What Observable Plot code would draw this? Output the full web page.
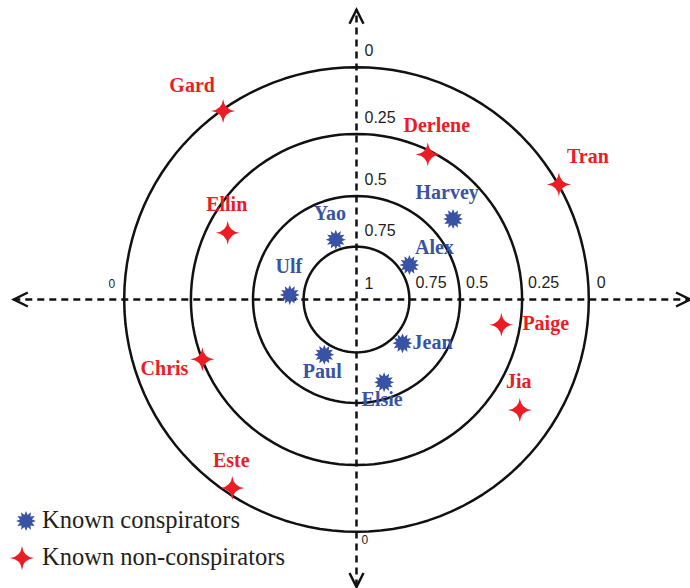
<!DOCTYPE html>
<html><head><meta charset="utf-8">
<script src="https://cdn.jsdelivr.net/npm/d3@7"></script>
<script src="https://cdn.jsdelivr.net/npm/@observablehq/plot@0.6"></script>
<style>
body{margin:0;background:#fff;}
#wrap{position:relative;width:690px;height:588px;overflow:hidden;}
.legtxt{position:absolute;font-family:"Liberation Serif","Times New Roman",serif;font-size:24.5px;line-height:28px;color:#231f20;white-space:nowrap;}
.legsym{position:absolute;}
</style></head><body><div id="wrap"></div>
<script>
// ---- data ----
const conspirators = ["Yao","Ulf","Alex","Harvey","Jean","Paul","Elsie"];
const conspX = [-0.09,-0.29,0.23,0.42,0.20,-0.14,0.12];
const conspY = [0.26,0.02,0.15,0.35,-0.19,-0.24,-0.36];
const conspLabelSide = ["NNW","N","ENE","NNW","E","S","S"];

const nonConspirators = ["Gard","Derlene","Tran","Ellin","Paige","Chris","Jia","Este"];
const nonX = [-0.58,0.31,0.88,-0.56,0.63,-0.67,0.71,-0.54];
const nonY = [0.82,0.63,0.50,0.29,-0.11,-0.26,-0.48,-0.82];
const nonLabelSide = ["NW","NNE","NE","N","E","W","N","N"];

const ringRadius = [0.23,0.45,0.72,1.01];
const ringLabels = ["0.75","0.5","0.25","0"];
const centerLabel = "1";
const axisX = [-1.49, 1.45];
const axisY = [-1.25, 1.26];

const groups = ["Known conspirators","Known non-conspirators"];
const groupColors = ["#3953a4","#ed1c24"];

// ---- symbols ----
const burst = {draw(ctx, size){
  const R = Math.sqrt(size/Math.PI), n = 12;
  for (let i = 0; i < 2*n; i++){
    const a = i*Math.PI/n - Math.PI/2, r = i%2 ? R*0.62 : R;
    const x = r*Math.cos(a), y = r*Math.sin(a);
    i ? ctx.lineTo(x,y) : ctx.moveTo(x,y);
  }
  ctx.closePath();
}};
const star4 = {draw(ctx, size){
  const R = Math.sqrt(size/Math.PI), c = R*0.1;
  ctx.moveTo(0,-R);
  ctx.quadraticCurveTo(c,-c,R,0);
  ctx.quadraticCurveTo(c,c,0,R);
  ctx.quadraticCurveTo(-c,c,-R,0);
  ctx.quadraticCurveTo(-c,-c,0,-R);
  ctx.closePath();
}};
const chevron = {draw(ctx){ ctx.moveTo(-7,14); ctx.lineTo(0,0); ctx.lineTo(7,14); }};

// ---- tables ----
const people = [
  ...conspirators.map((name,i)=>({name, x:conspX[i], y:conspY[i], side:conspLabelSide[i], g:0})),
  ...nonConspirators.map((name,i)=>({name, x:nonX[i], y:nonY[i], side:nonLabelSide[i], g:1}))
];
const rings = ringRadius.flatMap((r,k)=>d3.range(0,121).map(j=>({ring:k, x:r*Math.cos(j*Math.PI/60), y:r*Math.sin(j*Math.PI/60)})));
const vLabels = [{t:centerLabel, r:0}, ...ringLabels.map((t,i)=>({t, r:ringRadius[i]}))];
const hLabels = ringLabels.slice(0,3).map((t,i)=>({t, r:ringRadius[i]}));
const outerIdx = ringLabels.length-1;
const tips = [
  {x:0, y:axisY[1], rot:0},{x:axisX[1], y:0, rot:90},
  {x:0, y:axisY[0], rot:180},{x:axisX[0], y:0, rot:270}
];

const sideStyle = {
  N:   {dx:-1, dy:-28, textAnchor:"middle"},
  NNW: {dx:-6, dy:-26, textAnchor:"middle"},
  NNE: {dx:9,  dy:-29, textAnchor:"middle"},
  NE:  {dx:29, dy:-28, textAnchor:"middle"},
  ENE: {dx:25, dy:-17, textAnchor:"middle"},
  NW:  {dx:-31,dy:-25, textAnchor:"middle"},
  S:   {dx:-2, dy:17,  textAnchor:"middle"},
  W:   {dx:-14,dy:9,   textAnchor:"end"}
};
const nameFont = {fontFamily:"Liberation Serif", fontWeight:"bold", fontSize:20};
const nameMarks = Object.entries(sideStyle).map(([k,s]) =>
  Plot.text(people.filter(d=>d.side===k), {x:"x", y:"y", text:"name", fill:d=>groupColors[d.g], ...s, ...nameFont}));
// east-side labels: offset depends on marker size
[0,1].forEach(g => nameMarks.push(
  Plot.text(people.filter(d=>d.side==="E" && d.g===g), {x:"x", y:"y", text:"name", fill:groupColors[g], dx: g ? 21 : 10, dy:-1, textAnchor:"start", ...nameFont})));

const tickFont = {fontFamily:"Liberation Sans", fontSize:16, fill:"#231f20"};
const chart = Plot.plot({
  width:690, height:588, margin:0,
  x:{domain:[-356/230, 334/230], axis:null},
  y:{domain:[-289/230, 299/230], axis:null},
  style:{background:"white", overflow:"visible"},
  marks:[
    Plot.ruleY([0], {x1:axisX[0], x2:axisX[1], stroke:"#111", strokeWidth:2.5, strokeDasharray:"7,5"}),
    Plot.ruleX([0], {y1:axisY[0], y2:axisY[1], stroke:"#111", strokeWidth:2.5, strokeDasharray:"7,5"}),
    Plot.dot(tips, {x:"x", y:"y", rotate:"rot", symbol:chevron, r:5, fill:"none", stroke:"#111", strokeWidth:2.5}),
    Plot.line(rings, {x:"x", y:"y", z:"ring", stroke:"#111", strokeWidth:2.5}),
    Plot.text(vLabels, {x:0, y:"r", text:"t", dx:8, dy:-16, textAnchor:"start", ...tickFont}),
    Plot.text(hLabels, {x:"r", y:0, text:"t", dx:6, dy:-17, textAnchor:"start", ...tickFont}),
    Plot.text([ringLabels[outerIdx]], {x:ringRadius[outerIdx], y:0, text:d=>d, dx:8, dy:-17, textAnchor:"start", ...tickFont}),
    Plot.text([ringLabels[outerIdx]], {x:-ringRadius[outerIdx], y:0, text:d=>d, dx:-9, dy:-15, textAnchor:"end", fontFamily:"Liberation Sans", fontSize:12, fill:"#231f20"}),
    Plot.text([ringLabels[outerIdx]], {x:0, y:-ringRadius[outerIdx], text:d=>d, dx:5, dy:8, textAnchor:"start", fontFamily:"Liberation Sans", fontSize:12, fill:"#231f20"}),
    Plot.dot(people.filter(d=>d.g===0), {x:"x", y:"y", symbol:burst, r:10, fill:groupColors[0], stroke:"none"}),
    Plot.dot(people.filter(d=>d.g===1), {x:"x", y:"y", symbol:star4, r:12, fill:groupColors[1], stroke:"none"}),
    ...nameMarks
  ]
});
const wrap = document.getElementById("wrap");
wrap.appendChild(chart);

// ---- legend ----
function symbolSvg(sym, r, color){
  const p = d3.path(); sym.draw(p, r*r*Math.PI);
  return `<svg width="28" height="28" viewBox="-14 -14 28 28"><path d="${p}" fill="${color}"/></svg>`;
}
const legSyms = [burst, star4], legR = [10, 12], legCY = [521, 558], legSX = [26, 22];
groups.forEach((g,i)=>{
  const s = document.createElement("div"); s.className="legsym";
  s.style.left = (legSX[i]-14)+"px"; s.style.top = (legCY[i]-14)+"px";
  s.innerHTML = symbolSvg(legSyms[i], legR[i], groupColors[i]);
  wrap.appendChild(s);
  const t = document.createElement("div"); t.className="legtxt";
  t.style.left = "42px"; t.style.top = (legCY[i]-15)+"px"; t.textContent = g;
  wrap.appendChild(t);
});
</script></body></html>
